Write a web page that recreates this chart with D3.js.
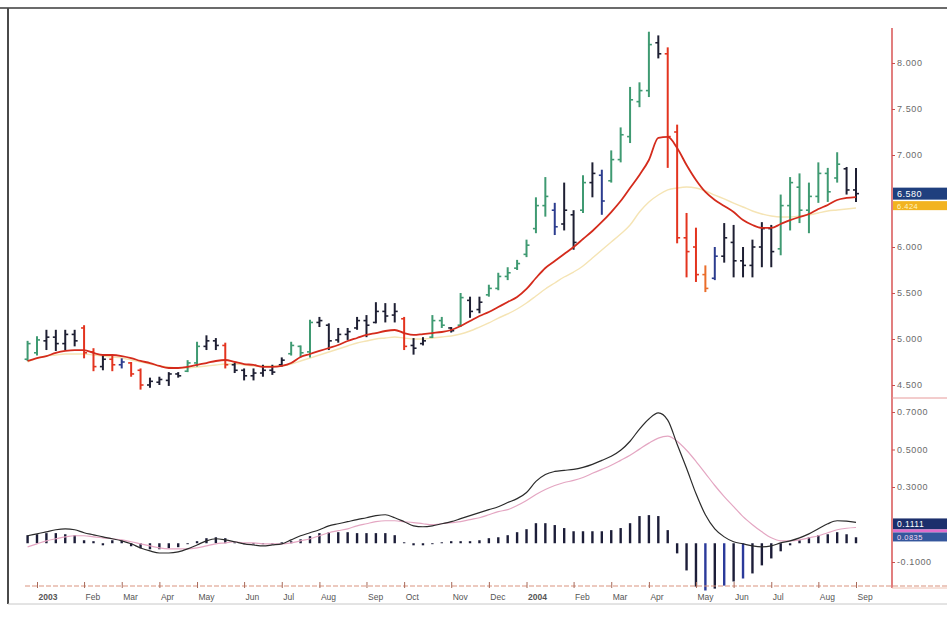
<!DOCTYPE html>
<html><head><meta charset="utf-8">
<script src="https://cdn.jsdelivr.net/npm/d3@7"></script>
<style>
html,body{margin:0;padding:0;background:#fff;}
svg{display:block;}
</style></head>
<body>
<svg id="chart" width="947" height="625"></svg>
<script>
// ---------- DATA ----------
const startWeek = "2002-12-27";   // first weekly bar (Friday)
const weekCount = 89;
const monthTickDates = ["2003-01-03","2003-02-07","2003-03-07","2003-04-04","2003-05-02","2003-06-06","2003-07-04","2003-08-01","2003-09-05","2003-10-03","2003-11-07","2003-12-05","2004-01-02","2004-02-06","2004-03-05","2004-04-02","2004-05-07","2004-06-04","2004-07-02","2004-08-06","2004-09-03"];
const monthTickLabels = ["2003","Feb","Mar","Apr","May","Jun","Jul","Aug","Sep","Oct","Nov","Dec","2004","Feb","Mar","Apr","May","Jun","Jul","Aug","Sep"];
// visible tick labels (6.500 and 0.1000 are hidden behind the value boxes)
const priceTicks = [4.5,5,5.5,6,7,7.5,8];
const macdTicks = [-0.1,0.3,0.5,0.7];

const high = [4.98,5.03,5.10,5.10,5.10,5.10,5.15,4.90,4.82,4.83,
4.79,4.75,4.68,4.58,4.59,4.64,4.64,4.77,4.97,5.04,
5.01,4.96,4.74,4.68,4.68,4.72,4.72,4.80,4.97,4.93,
5.21,5.24,5.17,5.12,5.12,5.24,5.26,5.40,5.39,5.39,
5.24,5.01,5.02,5.26,5.24,5.13,5.50,5.46,5.46,5.59,
5.72,5.78,5.86,6.08,6.54,6.76,6.48,6.70,6.40,6.78,
6.92,6.84,7.05,7.30,7.74,7.79,8.34,8.30,8.17,7.33,
6.37,6.21,5.80,6.00,6.26,6.24,6.00,6.08,6.27,6.24,
6.57,6.76,6.80,6.70,6.92,6.86,7.03,6.87,6.86];
const low = [4.76,4.82,4.88,4.87,4.88,4.92,4.79,4.65,4.66,4.65,
4.68,4.59,4.45,4.47,4.50,4.49,4.58,4.64,4.70,4.88,
4.88,4.68,4.63,4.55,4.55,4.59,4.61,4.70,4.82,4.80,
4.80,5.13,4.88,4.96,4.99,5.10,5.02,5.17,5.18,5.18,
4.88,4.83,4.93,5.01,5.12,5.07,5.13,5.23,5.28,5.46,
5.53,5.64,5.75,5.89,6.15,6.33,6.13,6.18,5.97,6.37,
6.54,6.35,6.70,6.92,7.13,7.52,7.63,8.05,6.86,6.04,
5.67,5.62,5.51,5.64,5.83,5.67,5.67,5.67,5.78,5.78,
5.91,6.18,6.26,6.15,6.48,6.49,6.70,6.57,6.49];
const open = [4.78,4.85,4.98,5.02,4.95,5.05,5.12,4.86,4.70,4.78,
4.72,4.74,4.66,4.50,4.53,4.55,4.62,4.65,4.74,4.92,
4.98,4.93,4.72,4.66,4.60,4.63,4.66,4.72,4.84,4.92,
4.86,5.18,5.15,4.99,5.05,5.12,5.20,5.18,5.30,5.26,
5.22,4.93,4.95,5.02,5.20,5.12,5.15,5.42,5.32,5.48,
5.55,5.68,5.77,5.92,6.20,6.45,6.40,6.25,6.35,6.40,
6.70,6.78,6.72,6.95,7.20,7.58,7.70,8.22,8.10,7.25,
6.10,6.00,5.70,5.66,5.90,6.05,5.85,5.80,6.00,6.20,
5.98,6.45,6.65,6.40,6.55,6.80,6.75,6.85,6.62];
const close = [4.95,4.99,5.02,4.95,5.05,4.98,4.85,4.70,4.78,4.72,
4.75,4.62,4.50,4.54,4.56,4.62,4.60,4.74,4.92,4.98,
4.93,4.72,4.66,4.60,4.63,4.66,4.64,4.77,4.93,4.85,
5.18,5.20,4.98,5.05,5.08,5.20,5.15,5.30,5.25,5.30,
4.92,4.90,4.98,5.20,5.15,5.09,5.45,5.30,5.40,5.55,
5.68,5.72,5.82,6.02,6.45,6.55,6.22,6.40,6.05,6.70,
6.80,6.50,6.95,7.22,7.60,7.70,8.20,8.10,7.20,6.10,
5.95,5.70,5.55,5.90,6.10,5.85,5.80,6.00,6.20,5.95,
6.45,6.70,6.40,6.55,6.80,6.60,6.90,6.62,6.58];
// bar state: g=up, k=neutral, b=neutral (blue), r=down, o=down (orange)
const barState = ("ggkkkkrrkr"+"brrkkkkggk"+"krkkkkkkgg"+"gkkkkkkkkk"+"rkkggkgkkg"+
                  "ggggggbkkg"+"kbgggggkrr"+"rrobkkkkkk"+"gggggggkk").split("");
const fastMA = [4.761,4.793,4.815,4.848,4.870,4.880,4.880,4.848,4.826,4.826,
4.815,4.793,4.761,4.739,4.707,4.685,4.685,4.696,4.718,4.739,
4.761,4.772,4.750,4.728,4.718,4.696,4.696,4.707,4.739,4.804,
4.837,4.870,4.902,4.935,4.978,5.011,5.044,5.065,5.087,5.098,
5.065,5.044,5.054,5.065,5.076,5.098,5.141,5.196,5.250,5.294,
5.348,5.402,5.457,5.544,5.663,5.772,5.848,5.924,6.000,6.087,
6.174,6.272,6.380,6.500,6.641,6.783,6.946,7.185,7.196,7.076,
6.891,6.728,6.598,6.511,6.446,6.380,6.293,6.239,6.207,6.207,
6.250,6.293,6.326,6.359,6.413,6.457,6.511,6.533,6.543];
const slowMA = [4.750,4.793,4.815,4.826,4.837,4.837,4.837,4.826,4.815,4.804,
4.793,4.772,4.750,4.728,4.707,4.696,4.685,4.685,4.696,4.707,
4.718,4.728,4.728,4.718,4.707,4.707,4.707,4.707,4.728,4.761,
4.793,4.826,4.859,4.891,4.924,4.957,4.978,5.000,5.011,5.022,
5.011,5.000,5.000,5.011,5.022,5.033,5.054,5.087,5.130,5.174,
5.228,5.272,5.326,5.391,5.467,5.544,5.609,5.674,5.728,5.793,
5.880,5.967,6.054,6.141,6.239,6.380,6.489,6.565,6.620,6.641,
6.652,6.641,6.609,6.565,6.522,6.478,6.435,6.391,6.359,6.337,
6.326,6.326,6.337,6.348,6.370,6.391,6.402,6.413,6.424];
const macd = [0.040,0.050,0.061,0.072,0.077,0.072,0.056,0.045,0.034,0.024,
0.013,-0.003,-0.025,-0.041,-0.052,-0.052,-0.046,-0.030,-0.009,0.013,
0.024,0.018,0.008,-0.003,-0.009,-0.014,-0.009,-0.003,0.018,0.040,
0.056,0.072,0.093,0.104,0.115,0.126,0.136,0.147,0.152,0.136,
0.115,0.093,0.088,0.093,0.104,0.115,0.131,0.147,0.163,0.179,
0.195,0.217,0.238,0.271,0.330,0.367,0.383,0.389,0.394,0.405,
0.421,0.442,0.464,0.496,0.544,0.609,0.663,0.695,0.657,0.528,
0.400,0.265,0.152,0.077,0.034,0.008,-0.003,-0.014,-0.019,-0.014,
0.002,0.013,0.029,0.050,0.077,0.104,0.120,0.118,0.111];
const signal = [-0.019,-0.003,0.013,0.024,0.034,0.040,0.040,0.034,0.029,0.024,
0.018,0.008,-0.003,-0.014,-0.025,-0.030,-0.030,-0.030,-0.025,-0.014,
-0.003,0.002,0.008,0.002,0.002,-0.003,-0.003,-0.003,0.002,0.013,
0.024,0.040,0.056,0.067,0.077,0.093,0.104,0.115,0.120,0.120,
0.115,0.110,0.104,0.099,0.104,0.110,0.115,0.126,0.136,0.152,
0.169,0.179,0.201,0.228,0.260,0.287,0.308,0.324,0.335,0.351,
0.373,0.394,0.416,0.442,0.469,0.502,0.534,0.561,0.571,0.544,
0.496,0.437,0.373,0.308,0.249,0.195,0.142,0.099,0.061,0.029,
0.013,0.013,0.018,0.029,0.040,0.056,0.072,0.080,0.084];
const hist = [0.043,0.048,0.054,0.054,0.048,0.043,0.016,0.011,-0.011,0.016,
0.016,-0.016,-0.027,-0.032,-0.032,-0.027,-0.021,-0.005,0.011,0.027,
0.032,0.027,0.005,-0.005,-0.005,-0.005,-0.005,0.005,0.011,0.021,
0.038,0.054,0.059,0.059,0.059,0.054,0.054,0.054,0.054,0.043,
0.005,-0.011,-0.011,-0.005,0.005,0.011,0.011,0.011,0.016,0.027,
0.032,0.043,0.059,0.075,0.107,0.107,0.097,0.081,0.064,0.064,
0.064,0.064,0.070,0.081,0.107,0.145,0.150,0.145,0.070,-0.054,
-0.145,-0.231,-0.252,-0.242,-0.226,-0.204,-0.188,-0.161,-0.118,-0.081,
-0.043,-0.011,0.016,0.032,0.043,0.048,0.059,0.048,0.032];
const macdLastLabel = "0.1111";
const signalLastLabel = "0.0835";

// ---------- SETUP ----------
const svg = d3.select("#chart");
const parse = d3.timeParse("%Y-%m-%d");
const t0 = parse(startWeek);
const weeks = d3.timeFriday.range(t0, d3.timeDay.offset(t0, 7*weekCount));
const tickDates = monthTickDates.map(parse);

const x = d3.scaleTime().domain([parse("2003-01-03"), parse("2004-09-03")]).range([37, 856]);
const yP = d3.scaleLinear().domain([4.5, 8]).range([385, 63]);
const yM = d3.scaleLinear().domain([-0.1, 0.7]).range([562, 412]);

const stateColor = {g:"#3f9a72", k:"#1e1f33", b:"#2c3c8e", r:"#e3341f", o:"#ea6d2a"};
const font = "'Liberation Sans', Arial, sans-serif";

// frame
svg.append("rect").attr("x",0).attr("y",0).attr("width",947).attr("height",625).attr("fill","#fff");
svg.append("line").attr("x1",0).attr("x2",947).attr("y1",8).attr("y2",8).attr("stroke","#3a3a3a").attr("stroke-width",1.6);
svg.append("line").attr("x1",8).attr("x2",8).attr("y1",8).attr("y2",604).attr("stroke","#4a4a4a").attr("stroke-width",2);
svg.append("line").attr("x1",8).attr("x2",947).attr("y1",604).attr("y2",604).attr("stroke","#c8c8c8").attr("stroke-width",1);

// ---------- PRICE PANEL ----------
const lineP = arr => d3.line().x((d,i)=>x(weeks[i])).y(d=>yP(d)).curve(d3.curveMonotoneX)(arr);

svg.append("path").attr("d", lineP(slowMA)).attr("fill","none")
  .attr("stroke","#f5e4b4").attr("stroke-width",1.4);

const bars = svg.append("g").selectAll("g").data(weeks).join("g")
  .attr("stroke", (d,i)=>stateColor[barState[i]]);
bars.append("line").attr("x1",(d)=>x(d)).attr("x2",(d)=>x(d))
  .attr("y1",(d,i)=>yP(high[i])).attr("y2",(d,i)=>yP(low[i])).attr("stroke-width",2);
bars.append("line").attr("x1",(d)=>x(d)-3).attr("x2",(d)=>x(d))
  .attr("y1",(d,i)=>yP(open[i])).attr("y2",(d,i)=>yP(open[i])).attr("stroke-width",1.6);
bars.append("line").attr("x1",(d)=>x(d)).attr("x2",(d)=>x(d)+3)
  .attr("y1",(d,i)=>yP(close[i])).attr("y2",(d,i)=>yP(close[i])).attr("stroke-width",1.6);

svg.append("path").attr("d", lineP(fastMA)).attr("fill","none")
  .attr("stroke","#d42b1c").attr("stroke-width",1.8);

// ---------- MACD PANEL ----------
svg.append("g").selectAll("line").data(weeks).join("line")
  .attr("x1",d=>x(d)).attr("x2",d=>x(d))
  .attr("y1",yM(0)).attr("y2",(d,i)=>yM(hist[i]))
  .attr("stroke",(d,i)=> hist[i] < -0.15 && i%2===0 ? "#2b3a9a" : "#1c1d38")
  .attr("stroke-width",2.4);

const lineM = arr => d3.line().x((d,i)=>x(weeks[i])).y(d=>yM(d)).curve(d3.curveMonotoneX)(arr);
svg.append("path").attr("d", lineM(signal)).attr("fill","none").attr("stroke","#e4a6c2").attr("stroke-width",1.2);
svg.append("path").attr("d", lineM(macd)).attr("fill","none").attr("stroke","#2b2b2b").attr("stroke-width",1.2);

// ---------- AXES ----------
svg.append("line").attr("x1",892).attr("x2",892).attr("y1",28).attr("y2",588)
  .attr("stroke","#d23a3a").attr("stroke-width",1.3);
svg.append("line").attr("x1",892).attr("x2",947).attr("y1",398).attr("y2",398)
  .attr("stroke","#e79a9a").attr("stroke-width",1);
svg.append("line").attr("x1",892).attr("x2",947).attr("y1",588).attr("y2",588)
  .attr("stroke","#efc4b4").attr("stroke-width",1);

const axP = svg.append("g").attr("transform","translate(892,0)")
  .call(d3.axisRight(yP).tickValues(priceTicks).tickFormat(d3.format(".3f")).tickSize(3).tickPadding(2));
const axM = svg.append("g").attr("transform","translate(892,0)")
  .call(d3.axisRight(yM).tickValues(macdTicks).tickFormat(d=>d.toFixed(4)).tickSize(3).tickPadding(2));
[axP, axM].forEach(g=>{
  g.select(".domain").remove();
  g.selectAll(".tick line").attr("stroke","#c85050");
  g.selectAll(".tick text").attr("fill","#6a6a6a").attr("font-family",font)
    .attr("font-size",9).attr("letter-spacing",0.6);
});

// bottom axis
svg.append("line").attr("x1",25).attr("x2",947).attr("y1",586).attr("y2",586)
  .attr("stroke","#d9937f").attr("stroke-width",1).attr("stroke-dasharray","5,2");
const axX = svg.append("g").attr("transform","translate(0,586)")
  .call(d3.axisBottom(x).tickValues(tickDates).tickFormat((d,i)=>monthTickLabels[i]).tickSizeInner(-4).tickSizeOuter(0).tickPadding(8));
axX.select(".domain").remove();
axX.selectAll(".tick line").attr("stroke","#a86a5a").attr("y1",2);
axX.selectAll(".tick text").attr("text-anchor","start").attr("dx",1)
  .attr("fill","#555").attr("font-family",font).attr("font-size",8.5)
  .attr("font-weight",(d,i)=> /^\d/.test(monthTickLabels[i]) ? "bold" : "normal");

// ---------- VALUE BOXES ----------
function box(yc, h, fill, txt, txtFill, fs){
  svg.append("rect").attr("x",893).attr("y",yc-h/2).attr("width",54).attr("height",h).attr("fill",fill);
  if (txt) svg.append("text").attr("x",897).attr("y",yc+3).attr("fill",txtFill)
    .attr("font-family",font).attr("font-size",fs).attr("letter-spacing",0.5).text(txt);
}
const lastI = weekCount-1;
box(yP(close[lastI]), 12, "#1f3f7e", d3.format(".3f")(close[lastI]), "#ffffff", 9);
box(yP(close[lastI])+12, 9, "#f2b320", d3.format(".3f")(slowMA[lastI]), "#fff3c4", 7.5);
box(yM(macd[lastI])+1.5, 11, "#1c2f6c", macdLastLabel, "#ffffff", 8.5);
svg.append("rect").attr("x",893).attr("y",yM(macd[lastI])+7).attr("width",54).attr("height",3).attr("fill","#e06ccb");
box(yM(macd[lastI])+14.5, 9, "#34569c", signalLastLabel, "#f4d6f0", 7.5);
</script>
</body></html>
